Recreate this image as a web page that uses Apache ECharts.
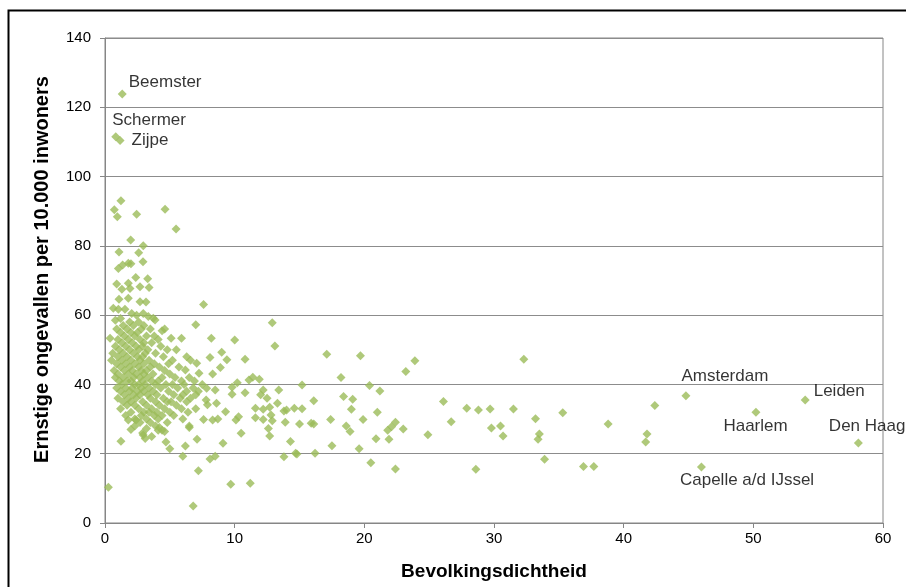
<!DOCTYPE html>
<html><head><meta charset="utf-8">
<script src="https://cdn.jsdelivr.net/npm/echarts@6/dist/echarts.min.js"></script>
<style>html,body{margin:0;padding:0;background:#fff}#c{width:906px;height:587px}</style>
</head><body><div id="c"></div>
<script>
// Labeled municipalities
const labelNames = ['Beemster','Schermer','Zijpe','Amsterdam','Leiden','Haarlem','Den Haag','Capelle a/d IJssel'];
const labelDensity = [1.33, 0.83, 1.16, 44.8, 54.0, 50.2, 58.1, 46.0];
const labelAccidents = [123.8, 111.5, 110.4, 36.7, 35.5, 32.0, 23.1, 16.2];

// Other municipalities [density, accidents]
const pointsHigh = [
 [19.7,48.3],[23.9,46.8],[23.2,43.7],[32.3,47.3],[18.2,42.0],[20.4,39.7],[21.2,38.1],[18.4,36.5],[19.1,35.7],[19.0,32.8],
 [21.0,32.0],[19.9,29.9],[26.1,35.1],[27.9,33.1],[28.8,32.6],[29.7,32.9],[31.5,32.9],[33.2,30.1],[18.6,28.0],[18.9,26.4],
 [22.4,29.1],[22.1,27.8],[21.8,26.8],[23.0,27.1],[20.9,24.3],[21.9,24.2],[24.9,25.5],[26.7,29.2],[29.8,27.4],[30.5,28.0],
 [30.7,25.1],[33.5,25.7],[33.4,24.2],[19.6,21.4],[20.5,17.4],[22.4,15.6],[28.6,15.5],[33.9,18.4],[35.3,31.8],[38.8,28.6],
 [42.4,33.9],[41.8,25.7],[41.7,23.4],[36.9,16.3],[37.7,16.3],[17.1,48.7],[16.1,35.3],[17.4,29.9],[17.5,22.3],[16.2,20.1],
 [15.2,39.8],[15.2,33.0],[15.0,28.6],[15.9,28.8],[16.1,28.6]
];
const pointsMid = [
 [7.6,63.1],[12.9,57.8],[13.1,51.1],[8.2,53.3],[10.0,52.8],[9.0,49.3],[8.1,47.8],[9.4,47.1],[10.8,47.3],[8.9,44.9],
 [8.3,43.0],[11.1,41.3],[11.4,42.1],[11.9,41.5],[10.2,40.5],[9.8,39.2],[9.8,37.2],[8.5,38.4],[10.8,37.6],[12.2,38.4],
 [12.0,37.0],[12.5,36.0],[13.4,38.4],[13.3,34.6],[7.8,35.5],[7.9,34.1],[8.6,34.6],[9.3,32.1],[11.6,33.1],[12.2,32.8],
 [12.7,33.4],[13.8,32.3],[14.0,32.6],[14.6,33.1],[7.6,29.9],[8.3,29.7],[8.7,30.0],[10.1,29.7],[10.3,30.7],[11.6,30.4],
 [12.2,29.9],[12.8,31.2],[12.9,29.5],[13.9,29.1],[10.5,25.9],[12.6,27.3],[12.7,25.1],[14.3,23.5],[9.1,23.0],[8.1,18.5],
 [8.5,19.3],[13.8,19.1],[14.7,20.1],[14.8,19.9],[7.2,15.1],[9.7,11.2],[11.2,11.5]
];
const pointsLow = [
 [0.26,10.3],[6.8,4.9],[1.23,23.6],[6.0,19.3],[5.0,21.4],[4.7,23.4],[6.2,22.2],[7.1,24.2],[6.5,27.6],[2.95,25.4],
 [3.1,24.4],[3.2,27.3],[2.3,28.0],[4.1,26.8],[4.4,26.8],[4.6,26.4],[4.2,27.6],[1.8,29.7],[2.4,29.7],
 [1.23,93.0],[0.72,90.4],[0.95,88.4],[2.44,89.1],[4.63,90.6],[5.48,84.9],[1.98,81.7],[2.95,80.0],[2.6,78.0],[1.08,78.2],
 [2.93,75.4],[1.8,75.0],[1.36,74.5],[1.03,73.5],[2.0,74.8],[2.37,70.9],[3.29,70.5],[2.7,68.2],[3.4,68.0],[0.9,69.0],
 [1.3,67.5],[1.8,69.2],[1.93,67.7],[1.08,64.6],[1.8,64.9],[2.7,63.9],[3.16,63.8],[0.64,62.0],[1.03,61.7],[1.54,61.7],
 [2.06,60.5],[2.44,60.0],[2.95,60.5],[3.34,59.6],[3.72,59.1]
];
const pointsCluster = [
 [1.2,59],[0.8,58.5],[1.9,58],[2.6,58],[3.86,58.6],[1.4,57],[2.2,57],[3.0,57],[7.0,57.2],
 [0.9,56],[1.7,56],[2.8,56],[3.5,56],[4.6,56],[1.2,55],[2.0,55],[2.5,55],[4.4,55.5],
 [1.5,54],[2.3,54],[3.2,54],[3.8,54],[0.39,53.3],[1.0,53],[1.8,53],[2.7,53],[5.1,53.3],[5.9,53.3],[4.1,53],
 [1.3,52],[2.1,52],[3.0,52],[3.6,52],[0.8,51],[1.6,51],[2.4,51],[2.9,51],[4.3,51],
 [1.1,50],[1.9,50],[2.6,50],[3.3,50],[4.8,50],[5.5,50],[0.6,49],[1.4,49],[2.2,49],[3.1,49],[3.9,49],
 [1.0,48],[1.7,48],[2.5,48],[2.9,48],[4.5,48],[6.3,48],[0.5,47],[1.3,47],[2.0,47],[2.7,47],[3.4,47],[5.2,47],[6.6,47],
 [0.9,46],[1.6,46],[2.3,46],[3.0,46],[3.8,46],[7.07,46.1],[4.9,46],[1.2,45],[1.9,45],[2.6,45],[3.5,45],[4.2,45],[5.7,45],
 [0.7,44],[1.5,44],[2.1,44],[2.8,44],[3.2,44],[6.2,44.2],[4.6,44],[1.0,43],[1.8,43],[2.4,43],[3.0,43],[3.7,43],[5.0,43],[7.25,43.2],
 [0.8,42],[1.4,42],[2.2,42],[2.7,42],[3.3,42],[4.4,42],[5.4,42],[6.5,42],[1.1,41],[1.7,41],[2.0,41],[2.9,41],[3.6,41],[4.1,41],[5.9,41],[6.9,41],
 [1.3,40],[2.3,40],[2.6,40],[3.1,40],[3.9,40],[4.7,40],[5.2,40],[6.1,40],[7.5,40],
 [0.9,39],[1.6,39],[2.1,39],[2.8,39],[3.4,39],[4.3,39],[5.6,39],[7.84,38.9],[6.8,39],
 [1.2,38],[1.9,38],[2.5,38],[3.0,38],[3.7,38],[4.9,38],[6.3,38],[7.2,38],
 [1.5,37],[2.2,37],[2.7,37],[3.3,37],[4.0,37],[5.3,37],[6.0,37],[7.0,37],
 [1.0,36],[1.8,36],[2.4,36],[3.5,36],[4.5,36],[5.8,36],[6.6,36],
 [1.4,35],[2.0,35],[2.9,35],[3.9,35],[4.8,35],[5.1,35],[6.3,35],
 [1.7,34],[2.3,34],[3.2,34],[4.2,34],[5.5,34],[1.2,33],[2.6,33],[3.6,33],[4.6,33],[5.9,33],[7.0,33],
 [2.0,32],[3.0,32],[3.4,32],[4.0,32],[5.0,32],[6.4,32],[1.6,31],[2.8,31],[3.8,31],[4.4,31],[5.3,31],
 [2.3,30],[3.2,30],[4.1,30],[6.0,30],[2.7,29],[3.5,29],[4.8,29],[3.9,28],[6.5,28],[2.0,27],[2.9,26],[3.6,25]
];
const xTicks = {min:0, max:60, interval:10};
const yTicks = {min:0, max:140, interval:20};

const otherData = pointsHigh.concat(pointsMid, pointsLow, pointsCluster);
const labelOffsets = [[-3,-12],[-13,-16],[2,0],[-14,-20],[-1,-9],[-42,14],[-39,-17],[-31,13]];
const labeledData = labelNames.map((n,i)=>({
  name:n, value:[labelDensity[i], labelAccidents[i]],
  label:{show:true, position:'right', offset:labelOffsets[i], formatter:n}
}));

const chart = echarts.init(document.getElementById('c'), null, {renderer:'canvas'});
const axisLabelStyle = {color:'#000', fontFamily:'Liberation Sans, Arial', fontSize:15};
chart.setOption({
  animation:false,
  backgroundColor:'#fff',
  graphic:[{type:'rect', shape:{x:8.5,y:10.5,width:1000,height:1000}, style:{fill:'none', stroke:'#000', lineWidth:2}, silent:true}],
  grid:{left:105, right:23, top:38, bottom:64, show:true, borderColor:'#868686', borderWidth:1, backgroundColor:'transparent'},
  xAxis:{type:'value', min:xTicks.min, max:xTicks.max, interval:xTicks.interval,
    name:'Bevolkingsdichtheid', nameLocation:'middle', nameGap:39,
    nameTextStyle:{color:'#000', fontFamily:'Liberation Sans, Arial', fontSize:19, fontWeight:'bold'},
    axisLine:{show:true, lineStyle:{color:'#868686'}}, axisTick:{show:true, length:5, lineStyle:{color:'#868686'}},
    axisLabel:Object.assign({margin:8}, axisLabelStyle), splitLine:{show:false}},
  yAxis:{type:'value', min:yTicks.min, max:yTicks.max, interval:yTicks.interval,
    name:'Ernstige ongevallen per 10.000 inwoners', nameLocation:'middle', nameGap:53,
    nameTextStyle:{color:'#000', fontFamily:'Liberation Sans, Arial', fontSize:20, fontWeight:'bold', padding:[0,0,0,22]},
    axisLine:{show:true, lineStyle:{color:'#868686'}}, axisTick:{show:true, length:5, lineStyle:{color:'#868686'}},
    axisLabel:Object.assign({margin:14}, axisLabelStyle), splitLine:{show:true, lineStyle:{color:'#8c8c8c', width:1}}},
  series:[
    {type:'scatter', symbol:'diamond', symbolSize:9, itemStyle:{color:'#9BBB59'}, data:otherData},
    {type:'scatter', symbol:'diamond', symbolSize:9, itemStyle:{color:'#9BBB59'}, data:labeledData,
     label:{color:'#000', fontFamily:'Liberation Sans, Arial', fontSize:17}}
  ]
});
</script></body></html>
